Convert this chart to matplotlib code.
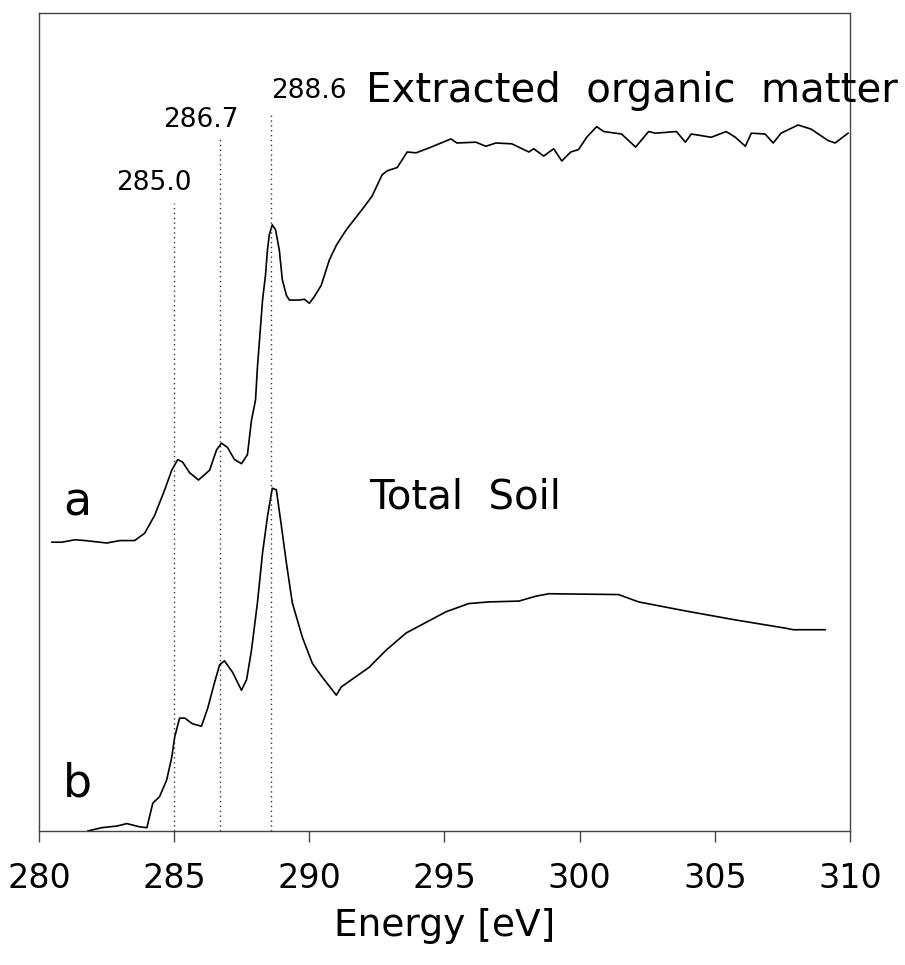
import matplotlib
matplotlib.use('Agg')
import matplotlib.pyplot as plt

# spectrum a: extracted organic matter (energy in eV, intensity in arb. units)
energy_a = [280.48, 280.85, 281.33, 281.70, 282.51, 282.99, 283.54, 283.91, 284.28,
            284.65, 284.91, 285.13, 285.31, 285.57, 285.90, 286.31, 286.57, 286.75,
            286.97, 287.23, 287.49, 287.71, 287.86, 288.01, 288.08, 288.27, 288.38,
            288.45, 288.52, 288.63, 288.75, 288.89, 289.00, 289.15, 289.26, 289.63,
            289.82, 290.00, 290.18, 290.44, 290.74, 291.00, 291.37, 291.96, 292.32,
            292.69, 292.88, 293.25, 293.62, 293.95, 294.43, 295.24, 295.46, 296.16,
            296.53, 296.90, 297.49, 298.12, 298.30, 298.67, 299.04, 299.34, 299.67,
            299.96, 300.26, 300.63, 300.89, 301.55, 302.07, 302.55, 302.80, 303.58,
            303.91, 304.13, 304.87, 305.42, 305.76, 306.13, 306.35, 306.86, 307.16,
            307.45, 308.08, 308.56, 309.19, 309.45, 309.93]
intensity_a = [35.3, 35.3, 35.6, 35.5, 35.2, 35.5, 35.5, 36.4, 38.6,
               41.7, 44.1, 45.4, 45.1, 43.8, 42.9, 44.1, 46.6, 47.4,
               46.9, 45.4, 44.9, 46.0, 50.2, 52.7, 56.7, 64.9, 68.0,
               71.0, 72.9, 74.1, 73.5, 71.0, 67.4, 65.5, 64.9, 64.9,
               65.0, 64.5, 65.3, 66.7, 69.8, 71.6, 73.5, 76.0, 77.6,
               80.2, 80.7, 81.1, 83.0, 82.9, 83.5, 84.6, 84.1, 84.2,
               83.7, 84.1, 84.0, 83.0, 83.4, 82.5, 83.4, 81.9, 83.0,
               83.3, 84.8, 86.1, 85.5, 85.2, 83.6, 85.5, 85.3, 85.5,
               84.2, 85.2, 84.8, 85.5, 84.8, 83.7, 85.3, 85.2, 84.1,
               85.3, 86.3, 85.8, 84.4, 84.1, 85.3]

# spectrum b: total soil
energy_b = [281.81, 282.32, 282.88, 283.25, 283.73, 283.99, 284.21, 284.46, 284.72,
            284.91, 285.02, 285.20, 285.39, 285.68, 286.01, 286.24, 286.49, 286.68,
            286.86, 287.16, 287.49, 287.68, 287.86, 288.08, 288.27, 288.45, 288.63,
            288.78, 288.97, 289.15, 289.37, 289.74, 290.11, 290.48, 291.00, 291.18,
            292.21, 292.84, 293.58, 294.32, 295.06, 295.90, 296.64, 297.75,
            298.38, 298.86, 301.44, 302.18, 303.91, 305.76, 307.60, 307.90, 309.08]
intensity_b = [0.0, 0.4, 0.6, 0.9, 0.5, 0.4, 3.4, 4.2, 6.2,
               9.0, 11.5, 13.8, 13.8, 13.1, 12.8, 15.0, 18.1, 20.3,
               20.8, 19.4, 17.2, 18.5, 22.1, 27.9, 34.0, 38.4, 41.9,
               41.7, 37.2, 32.8, 27.9, 23.7, 20.5, 18.8, 16.6, 17.6,
               20.0, 22.1, 24.2, 25.5, 26.8, 27.8, 28.0, 28.1,
               28.7, 29.0, 28.9, 28.0, 26.9, 25.8, 24.8, 24.6, 24.6]

# peak markers
peak_pos = [285.0, 286.7, 288.6]
peak_top = [76.8, 84.8, 87.8]
peak_labels = ['285.0', '286.7', '288.6']
x_ticks = [280, 285, 290, 295, 300, 305, 310]


def main():
    fig = plt.figure(figsize=(9.05, 9.65), dpi=100)
    ax = fig.add_axes([0.0431, 0.1389, 0.8961, 0.8477])

    ax.plot(energy_a, intensity_a, color='black', lw=1.2)
    ax.plot(energy_b, intensity_b, color='black', lw=1.2)

    for pos, top in zip(peak_pos, peak_top):
        ax.vlines(pos, 0, top, colors='#333333', linestyles=(0, (1, 2.5)), lw=1)

    ax.text(284.24, 78.4, peak_labels[0], fontsize=19, ha='center', va='baseline')
    ax.text(285.98, 86.1, peak_labels[1], fontsize=19, ha='center', va='baseline')
    ax.text(288.60, 89.6, peak_labels[2], fontsize=19, ha='left', va='baseline')

    # reference crops the last letter at the figure edge; keep it just inside
    ax.text(292.10, 89.1, 'Extracted  organic  matter', fontsize=29, va='baseline')
    ax.text(292.21, 39.4, 'Total  Soil', fontsize=29, va='baseline')
    ax.text(280.89, 38.6, 'a', fontsize=33, va='baseline')
    ax.text(280.89, 4.2, 'b', fontsize=33, va='baseline')

    ax.set_xlim(280, 310)
    ax.set_ylim(0, 100)
    ax.set_xticks(x_ticks)
    ax.set_yticks([])
    ax.tick_params(axis='x', direction='out', length=8, width=1, color='#444444',
                   labelsize=24, pad=14)
    for sp in ax.spines.values():
        sp.set_color('#444444')
        sp.set_linewidth(1)
    ax.set_xlabel('Energy [eV]', fontsize=27, labelpad=10)

    fig.savefig('out.png', dpi=100)


if __name__ == '__main__':
    main()
